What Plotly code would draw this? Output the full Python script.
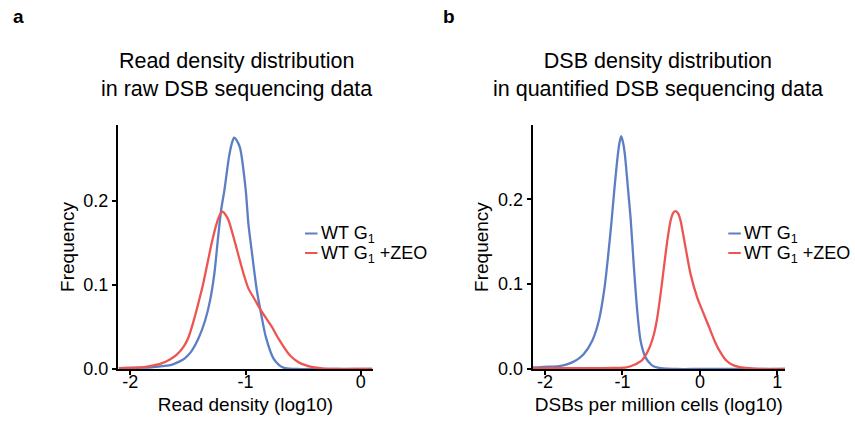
import plotly.graph_objects as go

# ---------------- data ----------------
# Panel a: read density distribution (raw data)
a_g1_x = [-2.10, -1.95, -1.816, -1.72, -1.643, -1.58, -1.527, -1.47, -1.408, -1.350, -1.307,
          -1.270, -1.240, -1.212, -1.183, -1.145, -1.12, -1.099, -1.075, -1.047, -0.998, -0.975,
          -0.940, -0.902, -0.865, -0.824, -0.758, -0.71, -0.671, -0.62, -0.55, -0.40, -0.20, 0.10]
a_g1_y = [0.001, 0.0015, 0.002, 0.0035, 0.005, 0.0085, 0.0127, 0.021, 0.0365, 0.058, 0.082,
          0.114, 0.154, 0.189, 0.213, 0.251, 0.268, 0.2754, 0.272, 0.263, 0.213, 0.173,
          0.134, 0.094, 0.066, 0.0385, 0.0127, 0.005, 0.0016, 0.0005, 0.0, 0.0, 0.0, 0.0]

a_zeo_x = [-2.10, -2.00, -1.932, -1.83, -1.729, -1.66, -1.599, -1.540, -1.500, -1.455, -1.410,
           -1.370, -1.330, -1.290, -1.255, -1.225, -1.200, -1.175, -1.148, -1.105, -1.062, -1.018,
           -0.975, -0.917, -0.859, -0.772, -0.715, -0.613, -0.54, -0.468, -0.40, -0.324, -0.21,
           0.0, 0.10]
a_zeo_y = [0.001, 0.0012, 0.0016, 0.0035, 0.0068, 0.011, 0.0167, 0.026, 0.036, 0.055, 0.078,
           0.100, 0.126, 0.152, 0.171, 0.183, 0.1873, 0.184, 0.1774, 0.1575, 0.1357, 0.1139,
           0.096, 0.0821, 0.0683, 0.0504, 0.0365, 0.0160, 0.008, 0.004, 0.0018, 0.0005, 0.0,
           0.0, 0.0]

# Panel b: DSB density distribution (quantified data)
b_g1_x = [-2.16, -2.10, -1.95, -1.842, -1.75, -1.649, -1.57, -1.499, -1.390, -1.305, -1.231,
          -1.183, -1.141, -1.102, -1.059, -1.035, -1.016, -0.995, -0.969, -0.930, -0.895, -0.853,
          -0.809, -0.766, -0.702, -0.628, -0.594, -0.508, -0.42, -0.30, 0.0, 0.5, 1.10]
b_g1_y = [0.002, 0.002, 0.0028, 0.003, 0.0045, 0.0078, 0.012, 0.0176, 0.0333, 0.0568, 0.096,
          0.135, 0.174, 0.214, 0.253, 0.268, 0.2745, 0.268, 0.253, 0.214, 0.178, 0.121,
          0.0686, 0.0333, 0.0137, 0.005, 0.003, 0.001, 0.0004, 0.0, 0.0, 0.0, 0.0]

b_zeo_x = [-2.16, -1.80, -1.40, -1.10, -0.95, -0.853, -0.80, -0.744, -0.659, -0.594, -0.550,
           -0.508, -0.465, -0.421, -0.379, -0.345, -0.314, -0.28, -0.249, -0.185, -0.120, -0.034,
           0.040, 0.125, 0.200, 0.270, 0.340, 0.419, 0.50, 0.590, 0.70, 0.80, 1.10]
b_zeo_y = [0.001, 0.001, 0.001, 0.0012, 0.002, 0.0047, 0.0072, 0.0106, 0.0235, 0.041, 0.0607,
           0.088, 0.1195, 0.151, 0.1745, 0.184, 0.186, 0.183, 0.1745, 0.143, 0.1118, 0.0842,
           0.067, 0.048, 0.031, 0.019, 0.010, 0.005, 0.0025, 0.0012, 0.0004, 0.0, 0.0]

series_names = ["WT G<sub>1</sub>", "WT G<sub>1</sub> +ZEO"]
panel_titles = ["Read density distribution<br>in raw DSB sequencing data",
                "DSB density distribution<br>in quantified DSB sequencing data"]
panel_letters = ["a", "b"]
x_titles = ["Read density (log10)", "DSBs per million cells (log10)"]
y_title = "Frequency"
a_xtick_vals = [-2, -1, 0]
a_xtick_text = ["-2", "-1", "0"]
b_xtick_vals = [-2, -1, 0, 1]
b_xtick_text = ["-2", "-1", "0", "1"]
ytick_vals = [0.0, 0.1, 0.2]
ytick_text = ["0.0", "0.1", "0.2"]

# ---------------- styling ----------------
W, H = 855, 423
BLUE = "#5C7EC4"
RED = "#EC5552"
FONT = "Arial, Liberation Sans, Helvetica, sans-serif"


def px(x):
    return x / W


def py(y):
    return 1 - y / H


fig = go.Figure()
line_kw = dict(width=2.3, shape="spline", smoothing=0.7)
fig.add_trace(go.Scatter(x=a_g1_x, y=a_g1_y, mode="lines", line=dict(color=BLUE, **line_kw),
                         xaxis="x", yaxis="y", name=series_names[0], showlegend=False))
fig.add_trace(go.Scatter(x=a_zeo_x, y=a_zeo_y, mode="lines", line=dict(color=RED, **line_kw),
                         xaxis="x", yaxis="y", name=series_names[1], showlegend=False))
fig.add_trace(go.Scatter(x=b_g1_x, y=b_g1_y, mode="lines", line=dict(color=BLUE, **line_kw),
                         xaxis="x2", yaxis="y2", name=series_names[0], showlegend=False))
fig.add_trace(go.Scatter(x=b_zeo_x, y=b_zeo_y, mode="lines", line=dict(color=RED, **line_kw),
                         xaxis="x2", yaxis="y2", name=series_names[1], showlegend=False))

axis_common = dict(showline=True, linecolor="black", linewidth=2, ticks="outside", ticklen=4,
                   tickwidth=1.5, tickcolor="black", showgrid=False, zeroline=False,
                   automargin=False,
                   tickfont=dict(family=FONT, size=18, color="black"),
                   title_font=dict(family=FONT, size=19, color="black"), fixedrange=True)

ydom = [py(369), py(125)]
fig.update_layout(
    template="none",
    width=W, height=H, margin=dict(l=0, r=0, t=0, b=0, pad=0), autosize=False,
    paper_bgcolor="white", plot_bgcolor="white",
    font=dict(family=FONT, color="black"),
    xaxis=dict(domain=[px(118), px(373)], range=[-2.107, 0.107], tickvals=a_xtick_vals, ticktext=a_xtick_text,
               anchor="y", ticklabelstandoff=-9, title=dict(text=x_titles[0], standoff=7), **axis_common),
    yaxis=dict(domain=ydom, range=[0, 0.2905], tickvals=ytick_vals, ticktext=ytick_text,
               anchor="x", title=dict(text=y_title, standoff=4), **axis_common),
    xaxis2=dict(domain=[px(532.7), px(785)], range=[-2.159, 1.099], tickvals=b_xtick_vals, ticktext=b_xtick_text,
                anchor="y2", ticklabelstandoff=-9, title=dict(text=x_titles[1], standoff=7), **axis_common),
    yaxis2=dict(domain=ydom, range=[0, 0.2875], tickvals=ytick_vals, ticktext=ytick_text,
                anchor="x2", title=dict(text=y_title, standoff=4), **axis_common),
    showlegend=False,
)

annotations = []
shapes = []
for letter, lx in zip(panel_letters, [18, 449]):
    annotations.append(dict(text=f"<b>{letter}</b>", x=px(lx), y=py(17), xref="paper", yref="paper",
                            xanchor="center", yanchor="middle", showarrow=False,
                            font=dict(family=FONT, size=19, color="black")))
for title, cx in zip(panel_titles, [237, 658]):
    annotations.append(dict(text=title, x=px(cx), y=py(75), xref="paper", yref="paper",
                            xanchor="center", yanchor="middle", showarrow=False,
                            font=dict(family=FONT, size=21.5, color="black")))
for lx0 in [305, 728.3]:
    for i, (name, col) in enumerate(zip(series_names, [BLUE, RED])):
        yy = 233.5 + i * 19.5
        shapes.append(dict(type="line", xref="paper", yref="paper", x0=px(lx0), x1=px(lx0 + 12.5),
                           y0=py(yy), y1=py(yy), line=dict(color=col, width=2)))
        annotations.append(dict(text=name, x=px(lx0 + 13.5), y=py(yy + 1), xref="paper", yref="paper",
                                xanchor="left", yanchor="middle", showarrow=False,
                                font=dict(family=FONT, size=18, color="black")))

fig.update_layout(annotations=annotations, shapes=shapes)
fig.write_html("out.html", config={"displayModeBar": False, "responsive": False},
               post_script="document.documentElement.style.margin='0';document.body.style.margin='0';"
                           "document.body.style.overflow='hidden';")
